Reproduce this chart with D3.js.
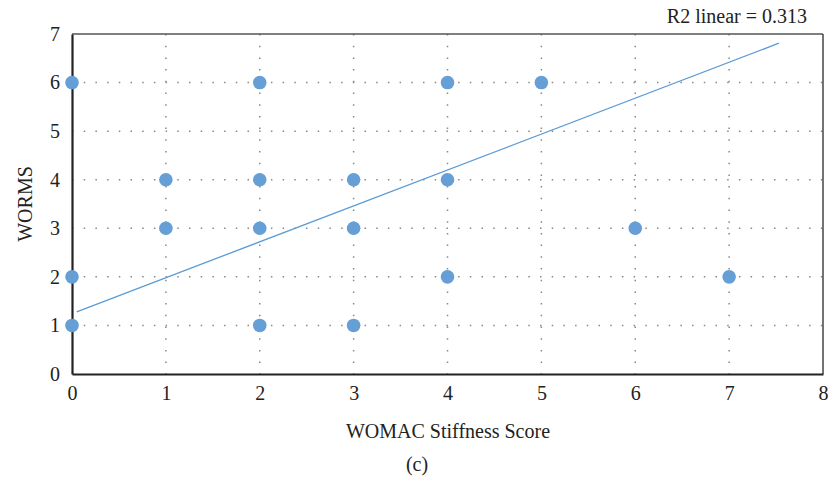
<!DOCTYPE html>
<html>
<head>
<meta charset="utf-8">
<script src="https://cdn.jsdelivr.net/npm/d3@7"></script>
<style>
  body { margin: 0; background: #fff; }
  text { font-family: "Liberation Serif", "DejaVu Serif", serif; fill: #222; }
</style>
</head>
<body>
<div id="chart"></div>
<script>
// scatter points (WOMAC stiffness vs WORMS)
const stiffness = [0, 0, 0, 1, 1, 2, 2, 2, 2, 3, 3, 3, 4, 4, 4, 5, 6, 7];
const worms     = [6, 2, 1, 4, 3, 6, 4, 3, 1, 4, 3, 1, 6, 4, 2, 6, 3, 2];
// fit line ends
const fitX = [0.05, 7.53];
const fitY = [1.28, 6.81];
const xTicks = [0, 1, 2, 3, 4, 5, 6, 7, 8];
const yTicks = [0, 1, 2, 3, 4, 5, 6, 7];

const W = 833, H = 485;
const margin = { top: 34, right: 10, bottom: 111, left: 72 };

const svg = d3.select("#chart").append("svg")
    .attr("width", W)
    .attr("height", H);

const x = d3.scaleLinear().domain([0, 8]).range([margin.left, 823]);
const y = d3.scaleLinear().domain([0, 7]).range([374, margin.top]);

// dotted grid
svg.append("g").selectAll("line")
    .data(xTicks.slice(1, -1))
    .join("line")
    .attr("x1", d => x(d)).attr("x2", d => x(d))
    .attr("y1", y(7)).attr("y2", y(0))
    .attr("stroke", "#888").attr("stroke-width", 1.5)
    .attr("stroke-dasharray", "1.5,10.2");

svg.append("g").selectAll("line")
    .data(yTicks.slice(1, -1))
    .join("line")
    .attr("x1", x(0)).attr("x2", x(8))
    .attr("y1", d => y(d)).attr("y2", d => y(d))
    .attr("stroke", "#888").attr("stroke-width", 1.5)
    .attr("stroke-dasharray", "1.5,10.2");

// frame: top and right
svg.append("line")
    .attr("x1", x(0)).attr("x2", x(8))
    .attr("y1", y(7)).attr("y2", y(7))
    .attr("stroke", "#555").attr("stroke-width", 1.5);
svg.append("line")
    .attr("x1", x(8)).attr("x2", x(8))
    .attr("y1", y(7)).attr("y2", y(0))
    .attr("stroke", "#444").attr("stroke-width", 1.5);

// axes
const xAxis = svg.append("g")
    .attr("transform", `translate(0,${y(0)})`)
    .call(d3.axisBottom(x).tickValues(xTicks).tickFormat(d3.format("d")).tickSize(0).tickPadding(12));
const yAxis = svg.append("g")
    .attr("transform", `translate(${x(0)},0)`)
    .call(d3.axisLeft(y).tickValues(yTicks).tickFormat(d3.format("d")).tickSize(0).tickPadding(12));

[xAxis, yAxis].forEach(a => {
    a.select(".domain").attr("stroke", "#222").attr("stroke-width", 2.2);
    a.selectAll("text")
        .style("font-family", '"Liberation Serif", serif')
        .style("font-size", "20px")
        .attr("fill", "#222");
});

// regression line
svg.append("line")
    .attr("x1", x(fitX[0])).attr("y1", y(fitY[0]))
    .attr("x2", x(fitX[1])).attr("y2", y(fitY[1]))
    .attr("stroke", "#5b9bd5").attr("stroke-width", 1.3);

// points
svg.append("g").selectAll("circle")
    .data(stiffness.map((d, i) => [d, worms[i]]))
    .join("circle")
    .attr("cx", d => x(d[0]))
    .attr("cy", d => y(d[1]))
    .attr("r", 6.8)
    .attr("fill", "#669fd6");

// labels
svg.append("text")
    .attr("x", 448).attr("y", 438)
    .attr("text-anchor", "middle")
    .style("font-size", "20px")
    .text("WOMAC Stiffness Score");

svg.append("text")
    .attr("transform", `translate(32,${y(3.5)}) rotate(-90)`)
    .attr("text-anchor", "middle")
    .style("font-size", "20px")
    .text("WORMS");

svg.append("text")
    .attr("x", 807).attr("y", 23)
    .attr("text-anchor", "end")
    .style("font-size", "20px")
    .text("R2 linear = 0.313");

svg.append("text")
    .attr("x", 417).attr("y", 471)
    .attr("text-anchor", "middle")
    .style("font-size", "20px")
    .text("(c)");
</script>
</body>
</html>
